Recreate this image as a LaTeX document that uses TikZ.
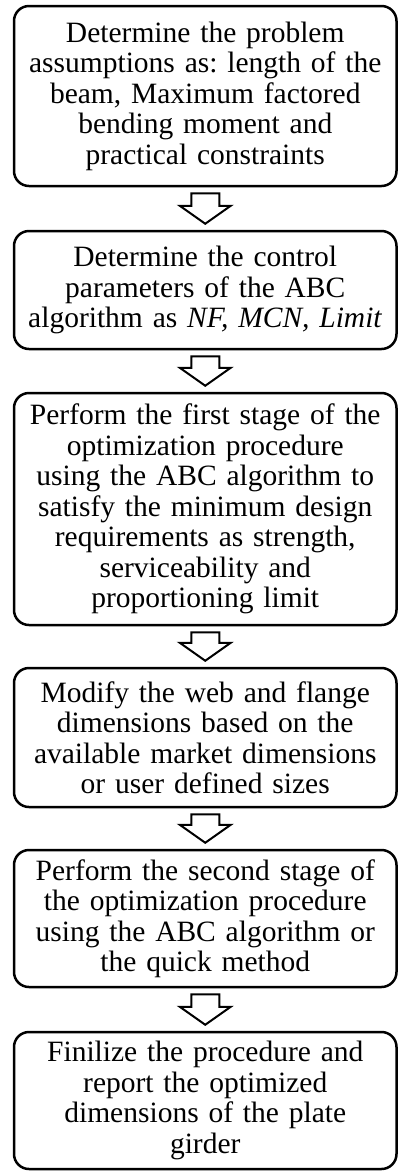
\documentclass[tikz,border=0pt]{standalone}
\usepackage{fontspec}
\setmainfont{Liberation Serif}
\usepackage{tikz}
\usetikzlibrary{calc,positioning}
\frenchspacing
\tikzstyle{stepbox} = [draw, line width=2.5pt, rounded corners=15pt, minimum width=382.5pt, text width=382.5pt, inner xsep=0pt, align=center, font=\fontsize{29.5}{30.5}\selectfont]
\tikzstyle{hollow} = [draw, line width=2pt, line join=miter, fill=white]
\newcommand{\flowarrow}[2]{%
  \draw[hollow] ($(#1.south)+(-14,6)$) -- ($(#1.south)+(14,6)$)
    -- ($(#2.north)+(14,-24)$) -- ($(#2.north)+(25.5,-24)$)
    -- ($(#2.north)+(0,-6)$) -- ($(#2.north)+(-25.5,-24)$)
    -- ($(#2.north)+(-14,-24)$) -- cycle;}

\begin{document}
\begin{tikzpicture}[x=1pt, y=-1pt]
\useasboundingbox (0,0) rectangle (398,1171);

% Steps
\node[stepbox, minimum height=180pt] (assume) at (205.25,96) {Determine the problem\\ assumptions as: length of the\\ beam, Maximum factored\\ bending moment and\\ practical constraints};
\node[stepbox, minimum height=118pt] (params) at (205.25,290) {Determine the control\\ parameters of the ABC\\ algorithm as \textit{NF, MCN, Limit}};
\node[stepbox, minimum height=232pt] (first) at (205.25,509) {Perform the first stage of the\\ optimization procedure\\ using the ABC algorithm to\\ satisfy the minimum design\\ requirements as strength,\\ serviceability and\\ proportioning limit};
\node[stepbox, minimum height=139pt] (modify) at (205.25,737.5) {Modify the web and flange\\ dimensions based on the\\ available market dimensions\\ or user defined sizes};
\node[stepbox, minimum height=137pt] (second) at (205.25,918.5) {Perform the second stage of\\ the optimization procedure\\ using the ABC algorithm or\\ the quick method};
\node[stepbox, minimum height=137pt] (final) at (205.25,1100.5) {Finilize the procedure and\\ report the optimized\\ dimensions of the plate\\ girder};

% Arrows
\flowarrow{assume}{params}
\flowarrow{params}{first}
\flowarrow{first}{modify}
\flowarrow{modify}{second}
\flowarrow{second}{final}
\end{tikzpicture}
\end{document}
